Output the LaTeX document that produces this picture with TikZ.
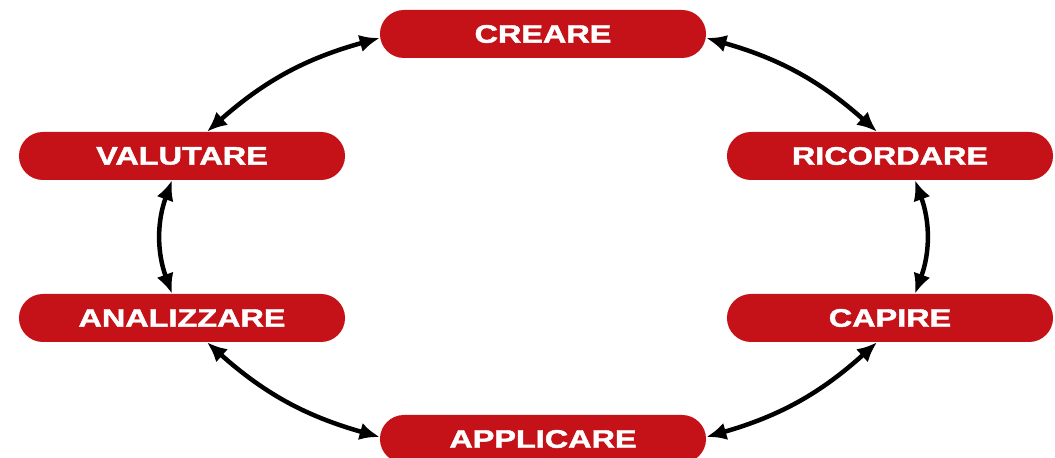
\documentclass[tikz,border=0pt]{standalone}
\usepackage{fontspec}
\setmainfont{Liberation Sans}
\newfontfamily\heavyfont[FakeBold=1.6]{Liberation Sans Bold}
\usepackage{graphicx}
\usetikzlibrary{arrows.meta}
\definecolor{pillred}{RGB}{196,18,24}
\newcommand{\lbl}[1]{\scalebox{1.28}[1]{\heavyfont\fontsize{18}{20}\selectfont #1}}

\begin{document}
\begin{tikzpicture}
[
    x = 0.025cm, y = 0.025cm,
    pill/.style = {draw = none, fill = pillred, text = white, rounded corners = 0.6cm,
                   minimum width = 8.15cm, minimum height = 1.2cm, inner sep = 0pt},
    link/.style = {line width = 3.2pt, {Latex[length=5mm,width=4.4mm]}-{Latex[length=5mm,width=4.4mm]}}
]
\useasboundingbox (0,0) rectangle (1055,458);

\node[pill] (creare)     at (543,424) {\lbl{CREARE}};
\node[pill] (valutare)   at (182,302) {\lbl{VALUTARE}};
\node[pill] (ricordare)  at (890,302) {\lbl{RICORDARE}};
\node[pill] (analizzare) at (182,140) {\lbl{ANALIZZARE}};
\node[pill] (capire)     at (890,140) {\lbl{CAPIRE}};
\node[pill] (applicare)  at (543,19)  {\lbl{APPLICARE}};

% frecce tra i livelli
\draw[link] ([yshift=-0.1cm]creare.west) to[bend right=13] ([xshift=0.625cm]valutare.north);
\draw[link] ([xshift=-0.25cm]valutare.south) to[bend right=20] ([xshift=-0.25cm]analizzare.north);
\draw[link] ([xshift=0.625cm]analizzare.south) to[bend right=13] ([yshift=0.05cm]applicare.west);
\draw[link] ([yshift=0.05cm]applicare.east) to[bend right=13] ([xshift=-0.325cm]capire.south);
\draw[link] ([xshift=0.625cm]capire.north) to[bend right=20] ([xshift=0.625cm]ricordare.south);
\draw[link] ([xshift=-0.325cm]ricordare.north) to[bend right=13] ([yshift=-0.1cm]creare.east);
\end{tikzpicture}
\end{document}
